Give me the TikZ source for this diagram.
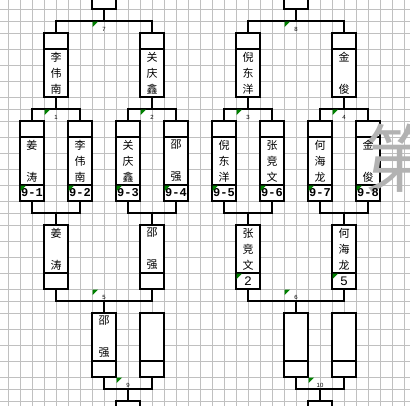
\documentclass[tikz,border=0pt]{standalone}
\usepackage{fontspec}
\newfontfamily\cjk{Noto Sans CJK SC}
\newfontfamily\seedfont{Liberation Mono}
\newfontfamily\tagfont{Liberation Sans}
\usepackage{tikz}
\usetikzlibrary{positioning}

\definecolor{gridgray}{RGB}{192,192,192}
\definecolor{flaggreen}{RGB}{0,128,0}
\definecolor{markgray}{RGB}{178,178,178}

\tikzset{
  cell/.style={draw=black, line width=1.2pt, fill=white, minimum width=24pt, inner sep=0pt},
  headrow/.style={path picture={\draw[line width=1.2pt] ([yshift=-16pt]path picture bounding box.north west) -- ([yshift=-16pt]path picture bounding box.north east);}},
  footrow/.style={path picture={\draw[line width=1.2pt] ([yshift=16pt]path picture bounding box.south west) -- ([yshift=16pt]path picture bounding box.south east);}},
  bothrows/.style={path picture={
      \draw[line width=1.2pt] ([yshift=-16pt]path picture bounding box.north west) -- ([yshift=-16pt]path picture bounding box.north east);
      \draw[line width=1.2pt] ([yshift=16pt]path picture bounding box.south west) -- ([yshift=16pt]path picture bounding box.south east);}},
  link/.style={draw=black, line width=1.2pt},
  names/.style={font=\cjk\fontsize{11}{16}\selectfont, align=center, inner sep=0pt},
  seed/.style={font=\seedfont\bfseries\fontsize{12}{12}\selectfont, inner sep=0pt},
  place/.style={font=\seedfont\fontsize{13}{13}\selectfont, inner sep=0pt},
  tag/.style={font=\tagfont\fontsize{6}{6}\selectfont, inner sep=0pt},
  flag/.style={fill=flaggreen},
  bigchar/.style={font=\cjk\fontsize{74}{74}\selectfont, text=markgray, inner sep=0pt, anchor=west}
}

\begin{document}
\begin{tikzpicture}[x=1pt, y=-1pt]
  \useasboundingbox (0,0) rectangle (410,406);
  \clip (0,0) rectangle (410,406);

  % sheet grid
  \foreach \gx in {0,...,33}
    \draw[gridgray, line width=0.8pt] (8+12*\gx,0) -- (8+12*\gx,406);
  \foreach \gy in {9,21,33,49,65,81,97,109,121,137,153,169,185,201,213,225,241,257,273,289,301,313,329,345,361,377,389,401}
    \draw[gridgray, line width=0.8pt] (0,\gy) -- (410,\gy);

  % boxes
  \node[cell, minimum height=40pt] (top7) at (104,-11) {};
  \node[cell, minimum height=40pt] (top8) at (296,-11) {};

  \node[cell, headrow, minimum height=64pt] (r2a) at (56,65) {};
  \node[cell, headrow, minimum height=64pt] (r2b) at (152,65) {};
  \node[cell, headrow, minimum height=64pt] (r2c) at (248,65) {};
  \node[cell, headrow, minimum height=64pt] (r2d) at (344,65) {};

  \node[cell, bothrows, minimum height=80pt] (r1a) at (32,161) {};
  \node[cell, bothrows, minimum height=80pt] (r1b) at (80,161) {};
  \node[cell, bothrows, minimum height=80pt] (r1c) at (128,161) {};
  \node[cell, bothrows, minimum height=80pt] (r1d) at (176,161) {};
  \node[cell, bothrows, minimum height=80pt] (r1e) at (224,161) {};
  \node[cell, bothrows, minimum height=80pt] (r1f) at (272,161) {};
  \node[cell, bothrows, minimum height=80pt] (r1g) at (320,161) {};
  \node[cell, bothrows, minimum height=80pt] (r1h) at (368,161) {};

  \node[cell, footrow, minimum height=64pt] (r3a) at (56,257) {};
  \node[cell, footrow, minimum height=64pt] (r3b) at (152,257) {};
  \node[cell, footrow, minimum height=64pt] (r3c) at (248,257) {};
  \node[cell, footrow, minimum height=64pt] (r3d) at (344,257) {};

  \node[cell, footrow, minimum height=64pt] (r4a) at (104,345) {};
  \node[cell, footrow, minimum height=64pt] (r4b) at (152,345) {};
  \node[cell, footrow, minimum height=64pt] (r4c) at (296,345) {};
  \node[cell, footrow, minimum height=64pt] (r4d) at (344,345) {};

  \node[cell, minimum height=40pt] (bot9) at (128,421) {};
  \node[cell, minimum height=40pt] (bot10) at (320,421) {};

  % bracket lines
  \coordinate (m7) at (104,21);
  \coordinate (m8) at (296,21);
  \coordinate (m1) at (56,109);
  \coordinate (m2) at (152,109);
  \coordinate (m3) at (248,109);
  \coordinate (m4) at (344,109);
  \coordinate (j1) at (56,213);
  \coordinate (j2) at (152,213);
  \coordinate (j3) at (248,213);
  \coordinate (j4) at (344,213);
  \coordinate (m5) at (104,301);
  \coordinate (m6) at (296,301);
  \coordinate (m9) at (128,389);
  \coordinate (m10) at (320,389);

  \draw[link] (top7.south) -- (m7);
  \draw[link] (r2a.north) |- (m7) -| (r2b.north);
  \draw[link] (top8.south) -- (m8);
  \draw[link] (r2c.north) |- (m8) -| (r2d.north);

  \draw[link] (r2a.south) -- (m1);
  \draw[link] (r1a.north) |- (m1) -| (r1b.north);
  \draw[link] (r2b.south) -- (m2);
  \draw[link] (r1c.north) |- (m2) -| (r1d.north);
  \draw[link] (r2c.south) -- (m3);
  \draw[link] (r1e.north) |- (m3) -| (r1f.north);
  \draw[link] (r2d.south) -- (m4);
  \draw[link] (r1g.north) |- (m4) -| (r1h.north);

  \draw[link] (r1a.south) |- (j1) -| (r1b.south);
  \draw[link] (j1) -- (r3a.north);
  \draw[link] (r1c.south) |- (j2) -| (r1d.south);
  \draw[link] (j2) -- (r3b.north);
  \draw[link] (r1e.south) |- (j3) -| (r1f.south);
  \draw[link] (j3) -- (r3c.north);
  \draw[link] (r1g.south) |- (j4) -| (r1h.south);
  \draw[link] (j4) -- (r3d.north);

  \draw[link] (r3a.south) |- (m5) -| (r3b.south);
  \draw[link] (m5) -- (r4a.north);
  \draw[link] (r3c.south) |- (m6) -| (r3d.south);
  \draw[link] (m6) -- (r4c.north);

  \draw[link] (r4a.south) |- (m9) -| (r4b.south);
  \draw[link] (m9) -- (bot9.north);
  \draw[link] (r4c.south) |- (m10) -| (r4d.south);
  \draw[link] (m10) -- (bot10.north);

  % big grey character behind the texts
  \node[bigchar] (wm) at (363,158) {第};

  % player names
  \node[names] (r2a-n) at ([yshift=-8pt]r2a.center) {李\\伟\\南};
  \node[names] (r2b-n) at ([yshift=-8pt]r2b.center) {关\\庆\\鑫};
  \node[names] (r2c-n) at ([yshift=-8pt]r2c.center) {倪\\东\\洋};
  \node[names] (r2d-n) at ([yshift=-8pt]r2d.center) {金\\[16pt]俊};

  \node[names] (r1a-n) at (r1a.center) {姜\\[16pt]涛};
  \node[names] (r1b-n) at (r1b.center) {李\\伟\\南};
  \node[names] (r1c-n) at (r1c.center) {关\\庆\\鑫};
  \node[names] (r1d-n) at (r1d.center) {邵\\[16pt]强};
  \node[names] (r1e-n) at (r1e.center) {倪\\东\\洋};
  \node[names] (r1f-n) at (r1f.center) {张\\竞\\文};
  \node[names] (r1g-n) at (r1g.center) {何\\海\\龙};
  \node[names] (r1h-n) at (r1h.center) {金\\[16pt]俊};

  \node[names] (r3a-n) at ([yshift=8pt]r3a.center) {姜\\[16pt]涛};
  \node[names] (r3b-n) at ([yshift=8pt]r3b.center) {邵\\[16pt]强};
  \node[names] (r3c-n) at ([yshift=8pt]r3c.center) {张\\竞\\文};
  \node[names] (r3d-n) at ([yshift=8pt]r3d.center) {何\\海\\龙};

  \node[names] (r4a-n) at ([yshift=8pt]r4a.center) {邵\\[16pt]强};

  % seeds and places
  \node[seed] (r1a-s) at ([yshift=-32pt]r1a.center) {9-1};
  \node[seed] (r1b-s) at ([yshift=-32pt]r1b.center) {9-2};
  \node[seed] (r1c-s) at ([yshift=-32pt]r1c.center) {9-3};
  \node[seed] (r1d-s) at ([yshift=-32pt]r1d.center) {9-4};
  \node[seed] (r1e-s) at ([yshift=-32pt]r1e.center) {9-5};
  \node[seed] (r1f-s) at ([yshift=-32pt]r1f.center) {9-6};
  \node[seed] (r1g-s) at ([yshift=-32pt]r1g.center) {9-7};
  \node[seed] (r1h-s) at ([yshift=-32pt]r1h.center) {9-8};
  \node[place] (r3c-p) at ([yshift=-24pt]r3c.center) {2};
  \node[place] (r3d-p) at ([yshift=-24pt]r3d.center) {5};

  % match numbers
  \node[tag] (t7) at (104,29) {7};
  \node[tag] (t8) at (296,29) {8};
  \node[tag] (t1) at (56,117) {1};
  \node[tag] (t2) at (152,117) {2};
  \node[tag] (t3) at (248,117) {3};
  \node[tag] (t4) at (344,117) {4};
  \node[tag] (t5) at (104,297) {5};
  \node[tag] (t6) at (296,297) {6};
  \node[tag] (t9) at (128,385) {9};
  \node[tag] (t10) at (320,385) {10};

  % green cell flags
  \foreach \fx/\fy in {92/21, 284/21, 44/109, 140/109, 236/109, 332/109,
      20/185, 68/185, 116/185, 164/185, 212/185, 260/185, 308/185, 356/185,
      236/273, 332/273, 92/289, 284/289, 116/377, 308/377}
    \fill[flag] (\fx+0.6,\fy+0.6) -- ++(5.5,0) -- ++(-5.5,5.5) -- cycle;
\end{tikzpicture}
\end{document}
